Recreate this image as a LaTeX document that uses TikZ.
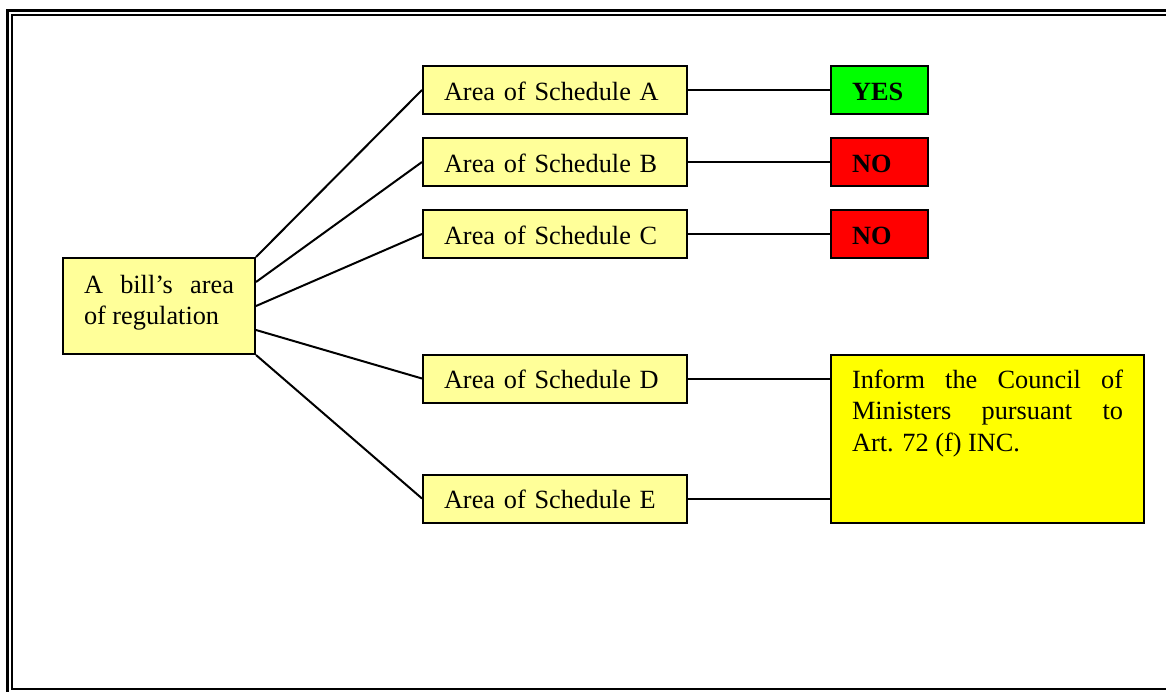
\documentclass[tikz,border=0pt]{standalone}
\usepackage{fontspec}
\setmainfont{Liberation Serif}
\definecolor{paleyellow}{RGB}{255,255,153}
\definecolor{yesgreen}{RGB}{0,255,0}
\definecolor{nored}{RGB}{255,0,0}
\definecolor{infoyellow}{RGB}{255,255,0}
\tolerance=10000
\hbadness=10000
\hyphenpenalty=10000

\begin{document}
\begin{tikzpicture}[x=1pt,y=-1pt,line width=2pt,
        font=\fontsize{26.3}{31.5}\selectfont,
        box/.style={draw=black,anchor=north west,inner xsep=21pt,inner ysep=0pt,align=left},
        area/.style={box,fill=paleyellow,text width=222pt,text height=34pt,text depth=14pt},
        answer/.style={box,text width=55pt,text height=34pt,text depth=14pt,font=\fontsize{26.3}{31.5}\selectfont\bfseries},
        ]
        \useasboundingbox (0,0) rectangle (1166,691);
        \clip (0,0) rectangle (1166,691);
        % page frame
        \draw[line width=3pt] (7.5,10.5) rectangle (1180,700);
        \draw (12.2,15.2) rectangle (1175,689);

        \node[box,fill=paleyellow,text width=150pt,text height=35pt,text depth=61pt,align=justify] (bill) at (62,257) {A bill’s area\linebreak of regulation};

        \node[area] (schA) at (422,65) {Area of Schedule A};
        \node[area] (schB) at (422,137) {Area of Schedule B};
        \node[area] (schC) at (422,209) {Area of Schedule C};
        \node[area] (schD) at (422,353.5) {Area of Schedule D};
        \node[area] (schE) at (422,473.5) {Area of Schedule E};

        \node[answer,fill=yesgreen] (yesA) at (830,65) {YES};
        \node[answer,fill=nored] (noB) at (830,137) {NO};
        \node[answer,fill=nored] (noC) at (830,209) {NO};
        \node[box,fill=infoyellow,text width=271pt,text height=33.5pt,text depth=134.5pt,align=justify] (inform) at (830,353.5) {Inform the Council of\linebreak Ministers pursuant to\linebreak Art. 72 (f) INC.};

        \draw (bill.north east) -- (schA.west);
        \draw ([yshift=24pt]bill.east) -- (schB.west);
        \draw (bill.east) -- (schC.west);
        \draw ([yshift=-24pt]bill.east) -- (schD.west);
        \draw (bill.south east) -- (schE.west);
        \draw (schA) -- (yesA);
        \draw (schB) -- (noB);
        \draw (schC) -- (noC);
        \draw (schD.east) -- (schD.east -| inform.west);
        \draw (schE.east) -- (schE.east -| inform.west);
\end{tikzpicture}
\end{document}
